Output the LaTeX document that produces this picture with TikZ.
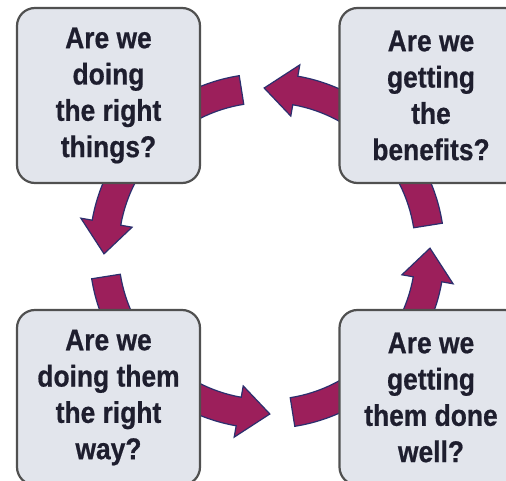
\documentclass[tikz,border=0pt]{standalone}
\usepackage{fontspec}
\newfontfamily\boxfont[FakeStretch=0.88,FakeBold=0.6]{Liberation Sans}
\definecolor{arrowfill}{HTML}{9C1F5B}
\definecolor{arrowline}{HTML}{2B2F6E}
\definecolor{boxfill}{HTML}{E2E5EC}
\definecolor{boxline}{HTML}{505050}
\definecolor{boxtext}{HTML}{1E1E2E}
\newcommand\cyclearrowpath[2]{%
  \pgfmathsetmacro\hb{#2-11}%
  \draw[cyclearrow] ([shift={(c)}]#1:148.5) arc[start angle=#1, end angle=\hb, radius=148.5]
    -- ([shift={(c)}]\hb:137) -- ([shift={(c)}]#2:163) -- ([shift={(c)}]\hb:189)
    -- ([shift={(c)}]\hb:177.5) arc[start angle=\hb, end angle=#1, radius=177.5] -- cycle;}
\begin{document}
\begin{tikzpicture}[x=1pt,y=1pt,
  qbox/.style={draw=boxline, line width=2.2pt, fill=boxfill, rounded corners=18pt,
    minimum width=183pt, minimum height=175pt, inner sep=0pt, align=center,
    text=boxtext, font=\boxfont\bfseries\fontsize{30}{36.3}\selectfont},
  cyclearrow/.style={fill=arrowfill, draw=arrowline, line width=1.2pt, line join=miter}]
\useasboundingbox (0,0) rectangle (506,480);
\begin{scope}
\clip (0,0) rectangle (506,480);
\fill[white] (0,0) rectangle (506,480);
\coordinate (c) at (267,229);
\cyclearrowpath{9}{91}
\cyclearrowpath{99}{181}
\cyclearrowpath{189}{271}
\cyclearrowpath{279}{361}
\node[qbox] (tl) at (108.5,384.5) {Are we\\doing\\the right\\things?};
\node[qbox] (tr) at (431,384.5) {Are we\\getting\\the\\benefits?};
\node[qbox] (bl) at (108.5,82.5) {Are we\\doing them\\the right\\way?};
\node[qbox] (br) at (431,82.5) {Are we\\getting\\them done\\well?};
\end{scope}
\end{tikzpicture}
\end{document}
